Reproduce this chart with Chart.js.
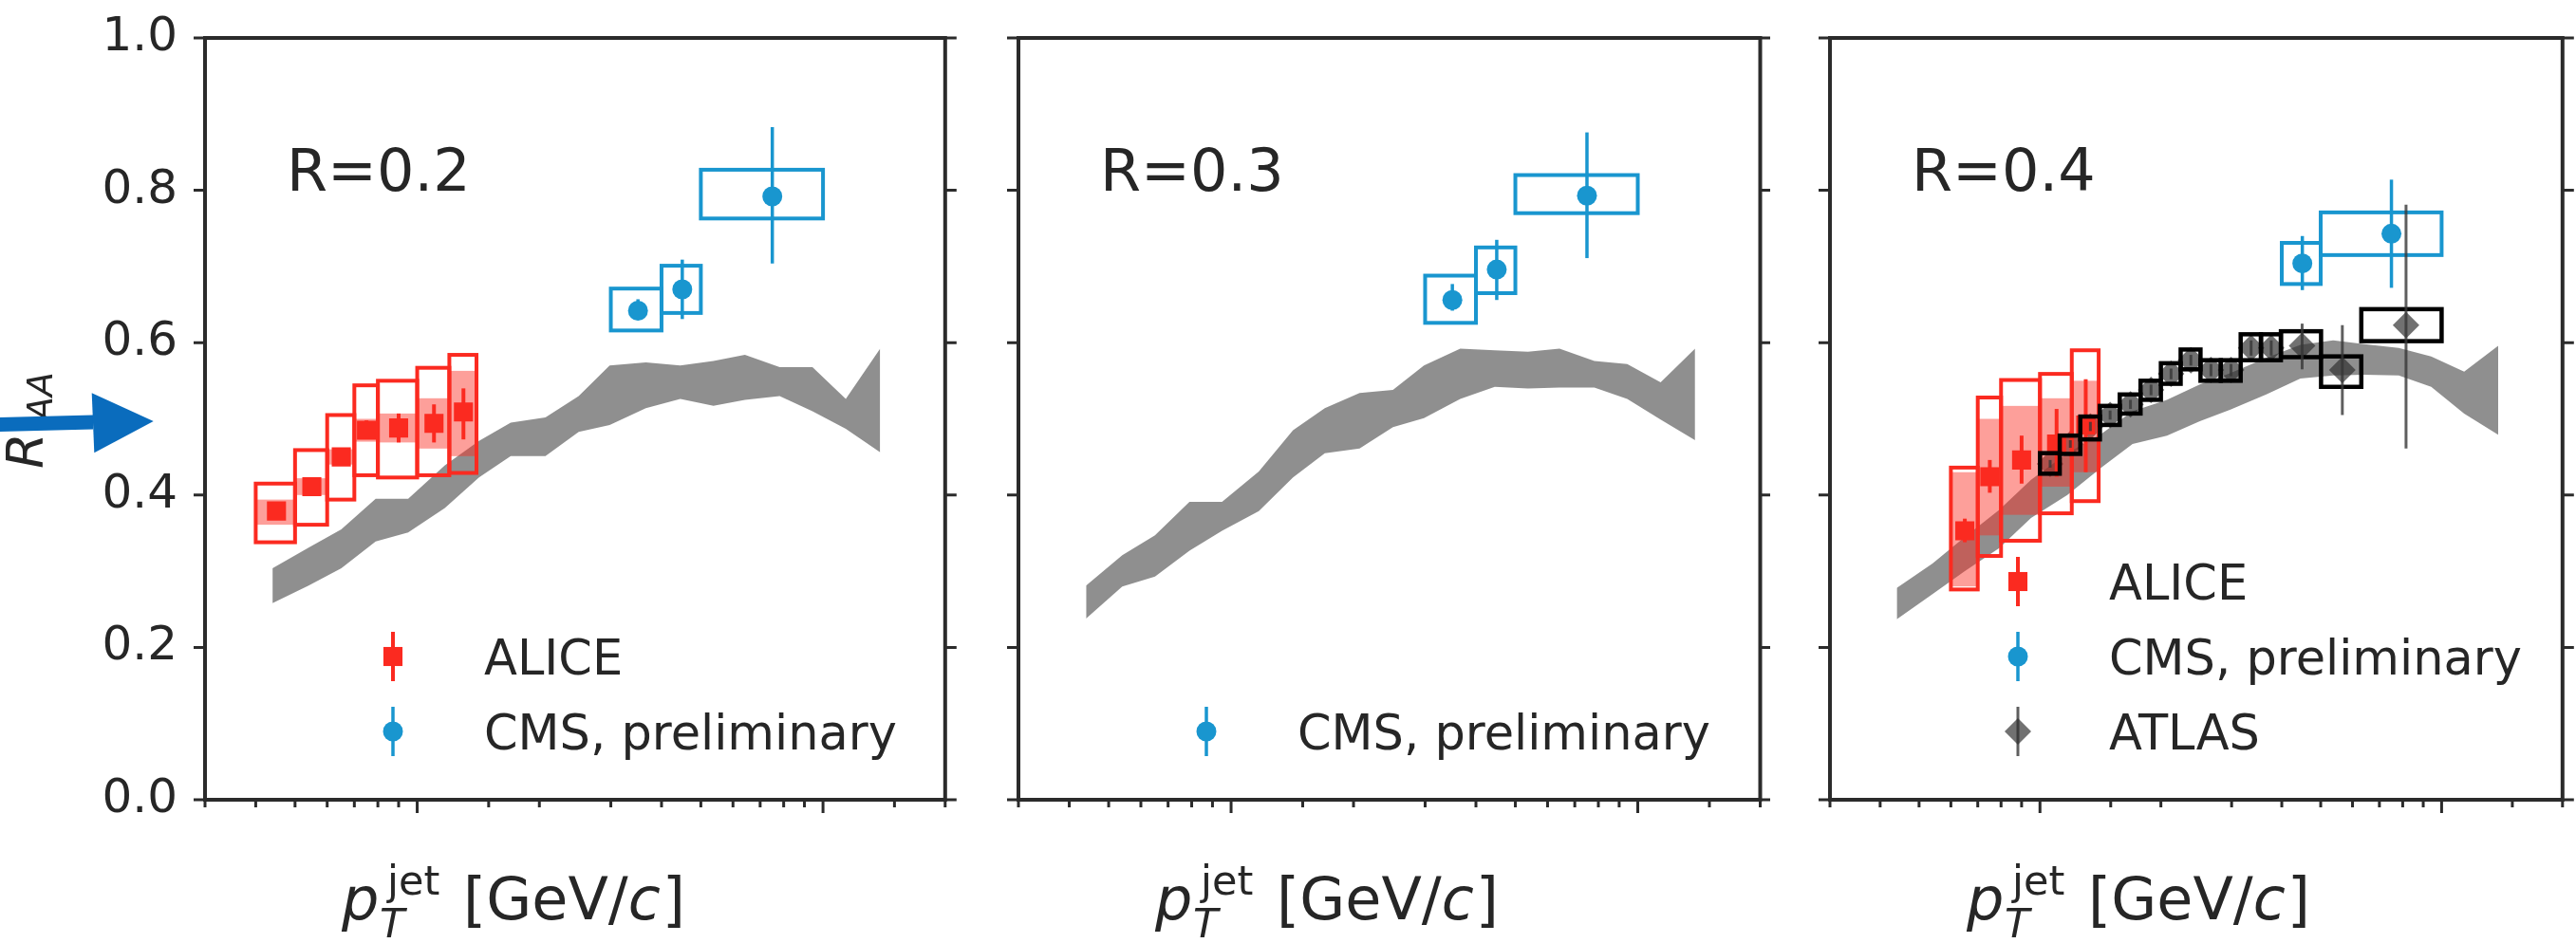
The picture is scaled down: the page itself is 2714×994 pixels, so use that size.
<!DOCTYPE html>
<html>
<head>
<meta charset="utf-8">
<script src="https://cdn.jsdelivr.net/npm/chart.js@4.4.1/dist/chart.umd.min.js"></script>
<style>
  html, body { margin: 0; padding: 0; background: #fff; }
  #wrap { position: relative; width: 2714px; height: 994px; overflow: hidden; }
  #wrap canvas { position: absolute; top: 0; }
  #arrow { position: absolute; left: 0; top: 0; }
</style>
</head>
<body>
<div id="wrap">
  <canvas id="r02" width="1010" height="994" style="left:0px"></canvas>
  <canvas id="r03" width="855" height="994" style="left:1010px"></canvas>
  <canvas id="r04" width="849" height="994" style="left:1865px"></canvas>
  <svg id="arrow" width="180" height="994">
    <polygon points="0,440 98,437.5 98,452.5 0,455" fill="#0a6cbd"/>
    <polygon points="96.7,414.3 161.7,444 99.3,477.3" fill="#0a6cbd"/>
  </svg>
</div>
<script>
// ---- theory band (same pT grid in every panel)
const bandPt = [44, 54, 65, 79, 95, 117, 142, 170, 207, 250, 298, 366, 445, 537, 642, 782, 942, 1138, 1383];
const bandR02Hi = [0.304, 0.331, 0.355, 0.395, 0.395, 0.439, 0.471, 0.495, 0.502, 0.530, 0.570, 0.574, 0.570, 0.576, 0.584, 0.568, 0.568, 0.526, 0.592];
const bandR02Lo = [0.258, 0.281, 0.304, 0.339, 0.351, 0.383, 0.423, 0.451, 0.451, 0.483, 0.492, 0.514, 0.526, 0.517, 0.525, 0.530, 0.510, 0.487, 0.456];
const bandR03Hi = [0.281, 0.321, 0.347, 0.391, 0.391, 0.431, 0.485, 0.514, 0.534, 0.538, 0.570, 0.592, 0.590, 0.588, 0.592, 0.576, 0.572, 0.548, 0.592];
const bandR03Lo = [0.238, 0.280, 0.293, 0.327, 0.353, 0.379, 0.423, 0.455, 0.461, 0.489, 0.501, 0.526, 0.542, 0.540, 0.541, 0.541, 0.526, 0.499, 0.472];
const bandR04Hi = [0.278, 0.310, 0.345, 0.380, 0.420, 0.455, 0.480, 0.510, 0.525, 0.545, 0.560, 0.580, 0.597, 0.603, 0.598, 0.593, 0.582, 0.562, 0.596];
const bandR04Lo = [0.237, 0.270, 0.300, 0.330, 0.370, 0.400, 0.436, 0.467, 0.478, 0.497, 0.512, 0.532, 0.553, 0.557, 0.558, 0.557, 0.542, 0.507, 0.479];

// ---- ALICE
const aliceR02PtLo = [40, 50, 60, 70, 80, 100, 120];
const aliceR02PtHi = [50, 60, 70, 80, 100, 120, 140];
const aliceR02Pt = [45, 55, 65, 75, 90, 110, 130];
const aliceR02Raa = [0.379, 0.411, 0.450, 0.485, 0.488, 0.494, 0.509];
const aliceR02StatLo = [0.372, 0.405, 0.443, 0.474, 0.469, 0.469, 0.473];
const aliceR02StatHi = [0.386, 0.417, 0.457, 0.498, 0.507, 0.519, 0.540];
const aliceR02SysLo = [0.338, 0.361, 0.394, 0.426, 0.423, 0.426, 0.429];
const aliceR02SysHi = [0.415, 0.459, 0.505, 0.544, 0.550, 0.567, 0.584];
const aliceR02ShapeLo = [0.361, 0.400, 0.440, 0.470, 0.469, 0.461, 0.451];
const aliceR02ShapeHi = [0.394, 0.422, 0.460, 0.500, 0.507, 0.527, 0.563];

const aliceR04PtLo = [60, 70, 80, 100, 120];
const aliceR04PtHi = [70, 80, 100, 120, 140];
const aliceR04Pt = [65, 75, 90, 110, 130];
const aliceR04Raa = [0.353, 0.424, 0.446, 0.467, 0.492];
const aliceR04StatLo = [0.338, 0.403, 0.415, 0.424, 0.430];
const aliceR04StatHi = [0.369, 0.446, 0.478, 0.513, 0.552];
const aliceR04SysLo = [0.276, 0.320, 0.340, 0.376, 0.392];
const aliceR04SysHi = [0.436, 0.528, 0.551, 0.559, 0.590];
const aliceR04ShapeLo = [0.280, 0.347, 0.374, 0.411, 0.430];
const aliceR04ShapeHi = [0.430, 0.500, 0.517, 0.527, 0.550];

// ---- CMS, preliminary
const cmsR02PtLo = [300, 400, 500];
const cmsR02PtHi = [400, 500, 1000];
const cmsR02Pt = [350, 450, 750];
const cmsR02Raa = [0.642, 0.670, 0.792];
const cmsR02StatLo = [0.630, 0.631, 0.704];
const cmsR02StatHi = [0.657, 0.709, 0.883];
const cmsR02SysLo = [0.616, 0.639, 0.763];
const cmsR02SysHi = [0.671, 0.701, 0.827];

const cmsR03PtLo = [300, 400, 500];
const cmsR03PtHi = [400, 500, 1000];
const cmsR03Pt = [350, 450, 750];
const cmsR03Raa = [0.656, 0.696, 0.793];
const cmsR03StatLo = [0.642, 0.656, 0.711];
const cmsR03StatHi = [0.677, 0.735, 0.876];
const cmsR03SysLo = [0.626, 0.665, 0.770];
const cmsR03SysHi = [0.688, 0.725, 0.820];

const cmsR04PtLo = [400, 500];
const cmsR04PtHi = [500, 1000];
const cmsR04Pt = [450, 750];
const cmsR04Raa = [0.704, 0.743];
const cmsR04StatLo = [0.669, 0.672];
const cmsR04StatHi = [0.740, 0.814];
const cmsR04SysLo = [0.677, 0.715];
const cmsR04SysHi = [0.731, 0.771];

// ---- ATLAS
const atlasR04PtLo = [100, 112, 126, 141, 158, 178, 200, 224, 251, 282, 316, 355, 398, 501, 631];
const atlasR04PtHi = [112, 126, 141, 158, 178, 200, 224, 251, 282, 316, 355, 398, 501, 631, 1000];
const atlasR04Pt = [106, 119, 133.5, 149.5, 168, 189, 212, 237.5, 266.5, 299, 335.5, 376.5, 449.5, 566, 815.5];
const atlasR04Raa = [0.441, 0.467, 0.490, 0.505, 0.519, 0.538, 0.559, 0.577, 0.564, 0.564, 0.593, 0.593, 0.596, 0.564, 0.623];
const atlasR04StatLo = [0.436, 0.462, 0.484, 0.499, 0.513, 0.531, 0.552, 0.570, 0.556, 0.556, 0.583, 0.583, 0.565, 0.505, 0.461];
const atlasR04StatHi = [0.446, 0.472, 0.496, 0.511, 0.525, 0.545, 0.566, 0.584, 0.572, 0.572, 0.603, 0.603, 0.625, 0.623, 0.781];
const atlasR04SysLo = [0.428, 0.454, 0.473, 0.492, 0.507, 0.525, 0.546, 0.565, 0.550, 0.550, 0.577, 0.577, 0.581, 0.542, 0.602];
const atlasR04SysHi = [0.455, 0.478, 0.503, 0.517, 0.532, 0.550, 0.573, 0.591, 0.577, 0.577, 0.611, 0.611, 0.615, 0.582, 0.644];

const yTicks = [0, 0.2, 0.4, 0.6, 0.8, 1.0];

const FONT = 'DejaVu Sans';
const INK = '#262626';
const RED = '#fb2a20';
const RED_SHADE = 'rgba(251, 42, 32, 0.45)';
const BLUE = '#1996cf';
const GRAY_BAND = 'rgba(112, 112, 112, 0.78)';
const ATLAS_MARK = 'rgba(45, 45, 45, 0.68)';

const pts = (xs, ys) => xs.map((x, i) => ({ x, y: ys[i] }));

function band(lo, hi) {
  return [
    { type: 'line', data: pts(bandPt, hi), borderColor: 'rgba(0,0,0,0)', borderWidth: 0, pointRadius: 0, fill: false, order: 20 },
    { type: 'line', data: pts(bandPt, lo), borderColor: 'rgba(0,0,0,0)', borderWidth: 0, pointRadius: 0, fill: '-1', backgroundColor: GRAY_BAND, order: 20 }
  ];
}

function alice(pt, raa, lo, hi, stLo, stHi, syLo, syHi, shLo, shHi) {
  return {
    label: 'ALICE', data: pts(pt, raa), pointStyle: 'rect', pointRadius: 14.2,
    backgroundColor: RED, borderWidth: 0, order: 5,
    unc: { lo, hi, stLo, stHi, syLo, syHi, shLo, shHi, color: RED, shade: RED_SHADE, err: RED, lw: 4, ew: 4 }
  };
}

function cms(pt, raa, lo, hi, stLo, stHi, syLo, syHi) {
  return {
    label: 'CMS, preliminary', data: pts(pt, raa), pointStyle: 'circle', pointRadius: 10.5,
    backgroundColor: BLUE, borderWidth: 0, order: 4,
    unc: { lo, hi, stLo, stHi, syLo, syHi, color: BLUE, err: BLUE, lw: 4, ew: 3.5 }
  };
}

function atlas() {
  return {
    label: 'ATLAS', data: pts(atlasR04Pt, atlasR04Raa), pointStyle: 'rectRot', pointRadius: 14,
    backgroundColor: ATLAS_MARK, borderWidth: 0, order: 6,
    unc: { lo: atlasR04PtLo, hi: atlasR04PtHi, stLo: atlasR04StatLo, stHi: atlasR04StatHi,
           syLo: atlasR04SysLo, syHi: atlasR04SysHi, color: '#000', err: 'rgba(55,55,55,0.8)', lw: 4.5, ew: 3, onTop: true }
  };
}

// boxes, shaded bands and error bars for one data set
function drawUnc(chart, ds) {
  const u = ds.unc, x = chart.scales.x, y = chart.scales.y, ctx = chart.ctx;
  ctx.save();
  u.lo.forEach((lo, i) => {
    const x0 = x.getPixelForValue(lo), x1 = x.getPixelForValue(u.hi[i]);
    if (u.shLo) {
      ctx.fillStyle = u.shade;
      const a = y.getPixelForValue(u.shHi[i]), b = y.getPixelForValue(u.shLo[i]);
      ctx.fillRect(x0, a, x1 - x0, b - a);
    }
    ctx.strokeStyle = u.color;
    ctx.lineWidth = u.lw;
    const t = y.getPixelForValue(u.syHi[i]), bt = y.getPixelForValue(u.syLo[i]);
    ctx.strokeRect(x0, t, x1 - x0, bt - t);
    const px = x.getPixelForValue(ds.data[i].x);
    ctx.strokeStyle = u.err;
    ctx.lineWidth = u.ew;
    ctx.beginPath();
    ctx.moveTo(px, y.getPixelForValue(u.stLo[i]));
    ctx.lineTo(px, y.getPixelForValue(u.stHi[i]));
    ctx.stroke();
  });
  ctx.restore();
}

const uncPlugin = {
  id: 'unc',
  beforeDatasetDraw(chart, args) {
    const ds = chart.data.datasets[args.index];
    if (ds.unc && !ds.unc.onTop) drawUnc(chart, ds);
  },
  afterDatasetsDraw(chart) {
    chart.data.datasets.forEach(ds => { if (ds.unc && ds.unc.onTop) drawUnc(chart, ds); });
  }
};

// frame, ticks, tick labels, panel label, legend and axis titles
const decorPlugin = {
  id: 'decor',
  afterDraw(chart) {
    const ctx = chart.ctx, a = chart.chartArea, p = chart.options.plugins.decor;
    const xs = chart.scales.x, ys = chart.scales.y;
    ctx.save();
    ctx.strokeStyle = '#2b2b2b';
    ctx.lineWidth = 4;
    ctx.strokeRect(a.left, a.top, a.right - a.left, a.bottom - a.top);
    ctx.lineWidth = 3;
    ctx.beginPath();
    xs.ticks.forEach(t => {
      const lg = Math.log10(t.value);
      const major = Math.abs(lg - Math.round(lg)) < 1e-6;
      const px = xs.getPixelForValue(t.value);
      ctx.moveTo(px, a.bottom);
      ctx.lineTo(px, a.bottom + (major ? 14 : 8));
    });
    ys.ticks.forEach(t => {
      const py = ys.getPixelForValue(t.value);
      ctx.moveTo(a.left - 12, py); ctx.lineTo(a.left, py);
      ctx.moveTo(a.right, py); ctx.lineTo(a.right + 12, py);
    });
    ctx.stroke();

    ctx.fillStyle = INK;
    if (p.yLabels) {
      ctx.font = `50px ${FONT}`;
      ctx.textAlign = 'right';
      ctx.textBaseline = 'middle';
      ys.ticks.forEach(t => ctx.fillText(t.value.toFixed(1), a.left - 29, ys.getPixelForValue(t.value)));
      ctx.textAlign = 'left';
    }
    ctx.textBaseline = 'alphabetic';
    ctx.font = `62px ${FONT}`;
    ctx.fillText(p.title, a.left + 86, a.top + 161);

    // legend, filled from the bottom row upwards
    const rows = p.legend.map(lbl => chart.data.datasets.find(d => d.label === lbl));
    rows.forEach((ds, i) => {
      const cy = a.bottom - 72 - (rows.length - 1 - i) * 79;
      const cx = a.left + 198;
      ctx.strokeStyle = ds.unc.err;
      ctx.lineWidth = ds.unc.ew;
      ctx.beginPath(); ctx.moveTo(cx, cy - 26); ctx.lineTo(cx, cy + 26); ctx.stroke();
      ctx.fillStyle = ds.backgroundColor;
      Chart.helpers.drawPoint(ctx, { pointStyle: ds.pointStyle, radius: ds.pointRadius, rotation: 0, borderWidth: 0 }, cx, cy);
      ctx.fillStyle = INK;
      ctx.font = `51px ${FONT}`;
      ctx.fillText(ds.label, a.left + 294, cy + 18.5);
    });

    // x title: p_T^jet [GeV/c]
    const x0 = a.left + 144, base = 969;
    ctx.fillStyle = INK;
    ctx.font = `italic 62px ${FONT}`;
    ctx.fillText('p', x0, base);
    ctx.font = `italic 43px ${FONT}`;
    ctx.fillText('T', x0 + 40, base + 19);
    ctx.font = `43px ${FONT}`;
    ctx.fillText('jet', x0 + 48, base - 26);
    ctx.font = `62px ${FONT}`;
    const x1 = a.left + 272;
    ctx.fillText('[GeV/', x1, base);
    let w = ctx.measureText('[GeV/').width;
    ctx.font = `italic 62px ${FONT}`;
    ctx.fillText('c', x1 + w, base);
    w += ctx.measureText('c').width;
    ctx.font = `62px ${FONT}`;
    ctx.fillText(']', x1 + w + 2, base);

    // y title R_AA
    if (p.yLabels) {
      ctx.translate(45, 494);
      ctx.rotate(-Math.PI / 2);
      ctx.font = `italic 54px ${FONT}`;
      ctx.fillText('R', 0, 0);
      ctx.font = `italic 38px ${FONT}`;
      ctx.fillText('AA', 50, 10);
    }
    ctx.restore();
  }
};

function panel(id, opts) {
  return new Chart(id, {
    type: 'scatter',
    data: { datasets: opts.datasets },
    plugins: [uncPlugin, decorPlugin],
    options: {
      responsive: false,
      animation: false,
      events: [],
      layout: { padding: { top: 40, right: opts.padRight, left: 0, bottom: 0 } },
      scales: {
        x: {
          type: 'logarithmic', min: 30, max: 2000,
          ticks: { display: false },
          grid: { display: false },
          border: { display: false },
          afterFit: s => { s.height = 151; }
        },
        y: {
          min: 0, max: 1,
          afterBuildTicks: s => { s.ticks = yTicks.map(v => ({ value: v })); },
          ticks: { display: false },
          grid: { display: false, drawTicks: false, tickLength: 0 },
          border: { display: false },
          afterFit: s => { s.width = opts.yWidth; }
        }
      },
      plugins: {
        legend: { display: false },
        tooltip: { enabled: false },
        decor: { title: opts.title, legend: opts.legend, yLabels: opts.yLabels }
      }
    }
  });
}

panel('r02', {
  title: 'R=0.2', yLabels: true, yWidth: 216, padRight: 13,
  legend: ['ALICE', 'CMS, preliminary'],
  datasets: [
    ...band(bandR02Lo, bandR02Hi),
    alice(aliceR02Pt, aliceR02Raa, aliceR02PtLo, aliceR02PtHi, aliceR02StatLo, aliceR02StatHi,
          aliceR02SysLo, aliceR02SysHi, aliceR02ShapeLo, aliceR02ShapeHi),
    cms(cmsR02Pt, cmsR02Raa, cmsR02PtLo, cmsR02PtHi, cmsR02StatLo, cmsR02StatHi, cmsR02SysLo, cmsR02SysHi)
  ]
});

panel('r03', {
  title: 'R=0.3', yLabels: false, yWidth: 63, padRight: 9,
  legend: ['CMS, preliminary'],
  datasets: [
    ...band(bandR03Lo, bandR03Hi),
    cms(cmsR03Pt, cmsR03Raa, cmsR03PtLo, cmsR03PtHi, cmsR03StatLo, cmsR03StatHi, cmsR03SysLo, cmsR03SysHi)
  ]
});

panel('r04', {
  title: 'R=0.4', yLabels: false, yWidth: 63, padRight: 3,
  legend: ['ALICE', 'CMS, preliminary', 'ATLAS'],
  datasets: [
    ...band(bandR04Lo, bandR04Hi),
    atlas(),
    alice(aliceR04Pt, aliceR04Raa, aliceR04PtLo, aliceR04PtHi, aliceR04StatLo, aliceR04StatHi,
          aliceR04SysLo, aliceR04SysHi, aliceR04ShapeLo, aliceR04ShapeHi),
    cms(cmsR04Pt, cmsR04Raa, cmsR04PtLo, cmsR04PtHi, cmsR04StatLo, cmsR04StatHi, cmsR04SysLo, cmsR04SysHi)
  ]
});
</script>
</body>
</html>
